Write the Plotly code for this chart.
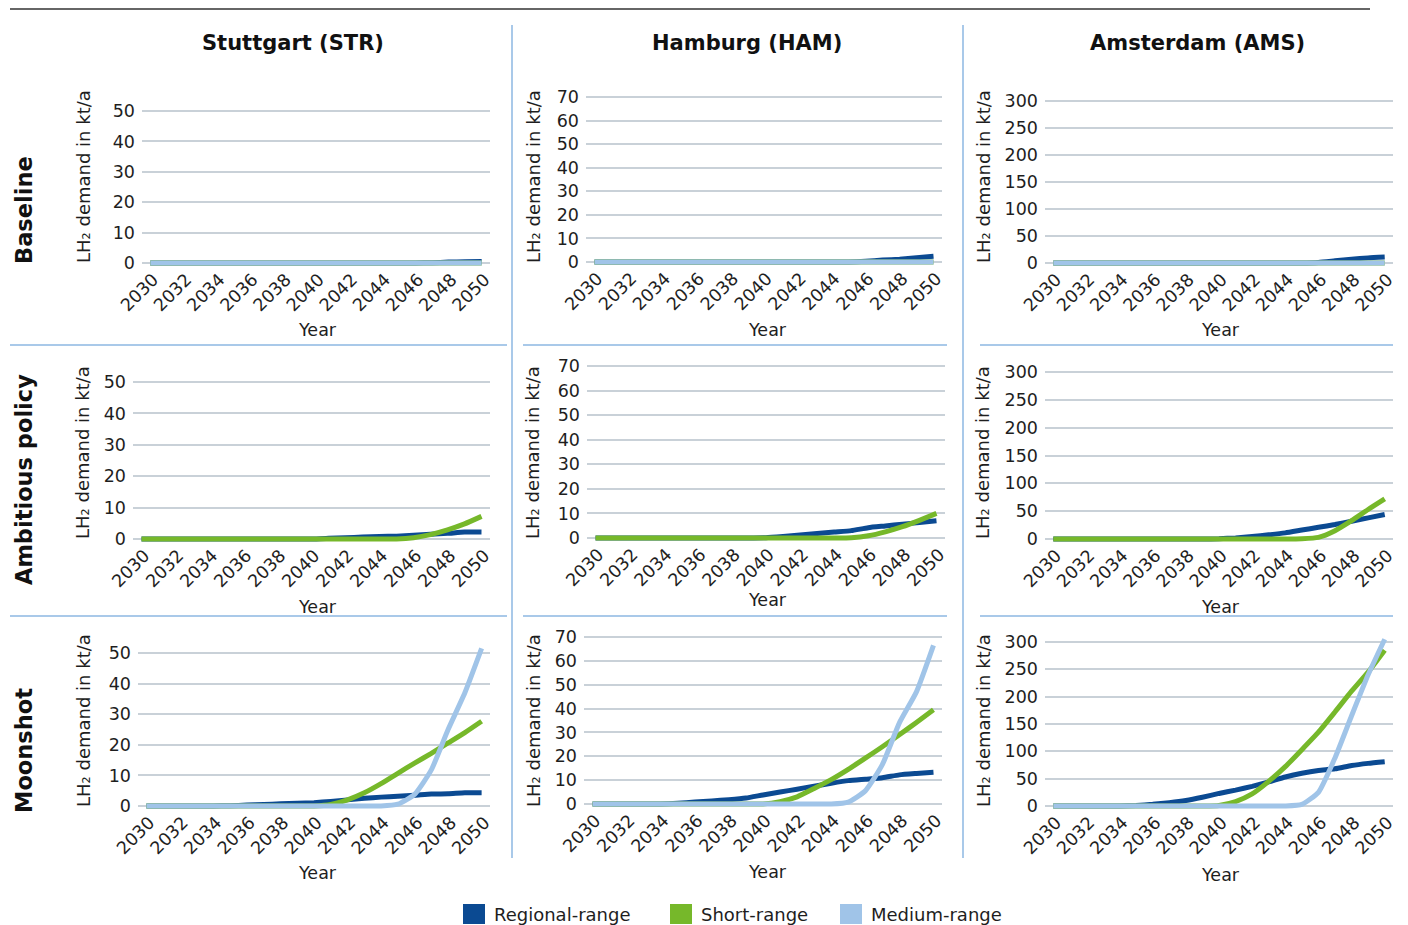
import plotly.graph_objects as go

# page geometry: the browser body has an 8px margin, so the figure is drawn
# 8px in from the top-left corner of the window
OX, OY = 8, 8
W, H = 1400, 917

years = list(range(2030, 2051))
year_ticks = list(range(2030, 2051, 2))

airports = ["Stuttgart (STR)", "Hamburg (HAM)", "Amsterdam (AMS)"]
scenarios = ["Baseline", "Ambitious policy", "Moonshot"]
series_names = ["Regional-range", "Short-range", "Medium-range"]

y_ticks_str = [0, 10, 20, 30, 40, 50]
y_ticks_ham = [0, 10, 20, 30, 40, 50, 60, 70]
y_ticks_ams = [0, 50, 100, 150, 200, 250, 300]

# ---------------- Baseline ----------------
str_base_regional = [0, 0, 0, 0, 0, 0, 0, 0, 0, 0, 0, 0, 0, 0, 0, 0, 0, 0.1, 0.3, 0.4, 0.5]
str_base_short    = [0, 0, 0, 0, 0, 0, 0, 0, 0, 0, 0, 0, 0, 0, 0, 0, 0, 0, 0, 0, 0]
str_base_medium   = [0, 0, 0, 0, 0, 0, 0, 0, 0, 0, 0, 0, 0, 0, 0, 0, 0, 0, 0, 0, 0]

ham_base_regional = [0, 0, 0, 0, 0, 0, 0, 0, 0, 0, 0, 0, 0, 0, 0, 0, 0.3, 0.8, 1.2, 1.8, 2.4]
ham_base_short    = [0, 0, 0, 0, 0, 0, 0, 0, 0, 0, 0, 0, 0, 0, 0, 0, 0, 0, 0, 0, 0]
ham_base_medium   = [0, 0, 0, 0, 0, 0, 0, 0, 0, 0, 0, 0, 0, 0, 0, 0, 0, 0, 0, 0, 0]

ams_base_regional = [0, 0, 0, 0, 0, 0, 0, 0, 0, 0, 0, 0, 0, 0, 0, 0, 1, 4, 7, 9.5, 11]
ams_base_short    = [0, 0, 0, 0, 0, 0, 0, 0, 0, 0, 0, 0, 0, 0, 0, 0, 0, 0, 0, 0, 0]
ams_base_medium   = [0, 0, 0, 0, 0, 0, 0, 0, 0, 0, 0, 0, 0, 0, 0, 0, 0, 0, 0, 0, 0]

# ---------------- Ambitious policy ----------------
str_amb_regional = [0, 0, 0, 0, 0, 0, 0, 0, 0, 0, 0, 0.2, 0.4, 0.6, 0.8, 0.9, 1.2, 1.5, 1.8, 2.2, 2.2]
str_amb_short    = [0, 0, 0, 0, 0, 0, 0, 0, 0, 0, 0, 0, 0, 0, 0, 0, 0.4, 1.4, 2.9, 4.8, 7.2]
str_amb_medium   = []

ham_amb_regional = [0, 0, 0, 0, 0, 0, 0, 0, 0, 0, 0.1, 0.6, 1.2, 1.8, 2.4, 3.0, 4.2, 4.9, 5.6, 6.3, 7.0]
ham_amb_short    = [0, 0, 0, 0, 0, 0, 0, 0, 0, 0, 0, 0, 0, 0, 0, 0.1, 0.9, 2.5, 4.6, 7.2, 10.0]
ham_amb_medium   = []

ams_amb_regional = [0, 0, 0, 0, 0, 0, 0, 0, 0, 0, 0.5, 2, 4.5, 7.5, 11, 16, 21, 26, 32, 38, 44]
ams_amb_short    = [0, 0, 0, 0, 0, 0, 0, 0, 0, 0, 0, 0, 0, 0, 0, 0.5, 3, 15, 33, 53, 72]
ams_amb_medium   = []

# ---------------- Moonshot ----------------
str_moon_regional = [0, 0, 0, 0, 0, 0.1, 0.3, 0.5, 0.7, 0.9, 1.1, 1.5, 2.0, 2.5, 2.9, 3.2, 3.5, 3.9, 4.0, 4.3, 4.3]
str_moon_short    = [0, 0, 0, 0, 0, 0, 0, 0, 0, 0, 0, 0.5, 2.0, 4.3, 7.3, 10.7, 14.0, 17.2, 20.6, 24.0, 27.7]
str_moon_medium   = [0, 0, 0, 0, 0, 0, 0, 0, 0, 0, 0, 0, 0, 0, 0, 0.6, 3.8, 11.8, 25.0, 37.0, 51.5]

ham_moon_regional = [0, 0, 0, 0, 0, 0.3, 0.8, 1.3, 1.8, 2.5, 3.8, 5.0, 6.2, 7.5, 8.7, 9.8, 10.4, 11.0, 12.2, 12.8, 13.3]
ham_moon_short    = [0, 0, 0, 0, 0, 0, 0, 0, 0, 0, 0, 1.0, 3.0, 6.5, 10.2, 14.5, 19.2, 24.0, 29.0, 34.2, 39.5]
ham_moon_medium   = [0, 0, 0, 0, 0, 0, 0, 0, 0, 0, 0, 0, 0, 0, 0, 0.8, 5.5, 16.5, 34.0, 47.0, 66.5]

ams_moon_regional = [0, 0, 0, 0, 0, 1, 3, 6, 10, 16, 23, 29, 36, 44, 53, 60, 65, 68, 74, 78, 81]
ams_moon_short    = [0, 0, 0, 0, 0, 0, 0, 0, 0, 0, 1, 8, 22, 45, 72, 103, 135, 172, 210, 245, 285]
ams_moon_medium   = [0, 0, 0, 0, 0, 0, 0, 0, 0, 0, 0, 0, 0, 0, 0, 3, 25, 88, 165, 240, 305]

# ---------------- styling ----------------
FONT = "DejaVu Sans"
TXT = "#1e1e1e"
GRID = "#C9D1D8"
SEP = "#A9C9E9"
series_colors = ["#0B4A92", "#76B82A", "#A0C4E8"]

panels = [
    # (row, col, data, yticks, xL, xR, y0px, ytop_px)  -- window pixels
    (0, 0, (str_base_regional, str_base_short, str_base_medium), y_ticks_str, 142, 490, 263, 111),
    (0, 1, (ham_base_regional, ham_base_short, ham_base_medium), y_ticks_ham, 586, 942, 262, 97),
    (0, 2, (ams_base_regional, ams_base_short, ams_base_medium), y_ticks_ams, 1045, 1393, 263, 101),
    (1, 0, (str_amb_regional, str_amb_short, str_amb_medium), y_ticks_str, 133, 490, 539, 382),
    (1, 1, (ham_amb_regional, ham_amb_short, ham_amb_medium), y_ticks_ham, 587, 945, 538, 366),
    (1, 2, (ams_amb_regional, ams_amb_short, ams_amb_medium), y_ticks_ams, 1045, 1393, 539, 372),
    (2, 0, (str_moon_regional, str_moon_short, str_moon_medium), y_ticks_str, 138, 490, 806, 653),
    (2, 1, (ham_moon_regional, ham_moon_short, ham_moon_medium), y_ticks_ham, 584, 942, 804, 637),
    (2, 2, (ams_moon_regional, ams_moon_short, ams_moon_medium), y_ticks_ams, 1045, 1393, 806, 642),
]


def px(x):
    return (x - OX) / W


def py(y):
    return 1 - (y - OY) / H


fig = go.Figure()
layout_axes = {}

for i, (r, c, data, yt, xL, xR, y0, ytop) in enumerate(panels):
    n = i + 1
    xa = "x" if n == 1 else f"x{n}"
    ya = "y" if n == 1 else f"y{n}"
    vmax = yt[-1]
    s = (y0 - ytop) / vmax
    pad_lo, pad_hi = 5, 8
    lo = -pad_lo / s
    hi = vmax + pad_hi / s
    for k, vals in enumerate(data):
        if not vals:
            continue
        fig.add_trace(go.Scatter(
            x=years, y=vals, xaxis=xa, yaxis=ya, mode="lines",
            name=series_names[k], showlegend=False,
            line=dict(color=series_colors[k], width=5, shape="spline", smoothing=0.5),
            hoverinfo="x+y+name",
        ))
    layout_axes["xaxis" if n == 1 else f"xaxis{n}"] = dict(
        domain=[px(xL), px(xR)], anchor=ya, range=[2029.5, 2050.5],
        tickvals=year_ticks, ticktext=[str(v) for v in year_ticks], tickangle=-45,
        showgrid=False, zeroline=False, showline=False, ticks="", automargin=False,
        ticklabelshift=3, ticklabelstandoff=-3,
        tickfont=dict(family=FONT, size=17.5, color=TXT), fixedrange=True,
    )
    layout_axes["yaxis" if n == 1 else f"yaxis{n}"] = dict(
        domain=[py(y0 + pad_lo), py(ytop - pad_hi)], anchor=xa, range=[lo, hi],
        tickvals=yt, showgrid=True, gridcolor=GRID, gridwidth=1.5,
        zeroline=False, showline=False, ticks="", ticklabelstandoff=6, automargin=False,
        tickfont=dict(family=FONT, size=17.5, color=TXT), fixedrange=True,
    )

annotations = []
# column titles
for xc, t in zip([293, 747, 1197], airports):
    annotations.append(dict(x=px(xc), y=py(43), xref="paper", yref="paper", text=t,
                            showarrow=False, xanchor="center", yanchor="middle",
                            font=dict(family=FONT, size=21, color="#111", weight="bold")))
# row titles
for yc, t in zip([210, 480, 751], scenarios):
    annotations.append(dict(x=px(24), y=py(yc), xref="paper", yref="paper", text=t,
                            showarrow=False, textangle=-90, xanchor="center", yanchor="middle",
                            font=dict(family=FONT, size=22.5, color="#111", weight="bold")))
# y-axis titles
for xc in [83, 533, 983]:
    for yc in [177, 453, 721]:
        annotations.append(dict(x=px(xc), y=py(yc), xref="paper", yref="paper",
                                text="LH₂ demand in kt/a",
                                showarrow=False, textangle=-90, xanchor="center", yanchor="middle",
                                font=dict(family=FONT, size=18, color=TXT)))
# x-axis titles
year_pos = [(317, 330), (768, 330), (1220, 330),
            (317, 607), (768, 600), (1220, 607),
            (317, 873), (768, 872), (1220, 875)]
for xc, yc in year_pos:
    annotations.append(dict(x=px(xc), y=py(yc), xref="paper", yref="paper", text="Year",
                            showarrow=False, xanchor="center", yanchor="middle",
                            font=dict(family=FONT, size=17.5, color=TXT)))

# legend (manual, squares + labels)
legend_items = [(463, series_names[0]), (670, series_names[1]), (840, series_names[2])]
shapes = []
for (x0, name), col in zip(legend_items, series_colors):
    shapes.append(dict(type="rect", xref="paper", yref="paper",
                       x0=px(x0), x1=px(x0 + 22), y0=py(924), y1=py(904),
                       fillcolor=col, line=dict(width=0)))
    annotations.append(dict(x=px(x0 + 29), y=py(914), xref="paper", yref="paper", text=name,
                            showarrow=False, xanchor="left", yanchor="middle",
                            font=dict(family=FONT, size=18, color=TXT)))

# separators
shapes.append(dict(type="line", xref="paper", yref="paper", x0=px(10), x1=px(1370),
                   y0=py(9), y1=py(9), line=dict(color="#333333", width=1.5)))
for xv in [512, 963]:
    shapes.append(dict(type="line", xref="paper", yref="paper", x0=px(xv), x1=px(xv),
                       y0=py(25), y1=py(858), line=dict(color=SEP, width=2)))
for yv in [345, 616]:
    for a, b in [(10, 507), (523, 947), (980, 1393)]:
        shapes.append(dict(type="line", xref="paper", yref="paper", x0=px(a), x1=px(b),
                           y0=py(yv), y1=py(yv), line=dict(color=SEP, width=2)))

fig.update_layout(
    width=W, height=H, margin=dict(l=0, r=0, t=0, b=0, pad=0, autoexpand=False),
    paper_bgcolor="white", plot_bgcolor="white",
    showlegend=False, annotations=annotations, shapes=shapes,
    font=dict(family=FONT, color=TXT),
    **layout_axes,
)

fig.write_html("out.html")
